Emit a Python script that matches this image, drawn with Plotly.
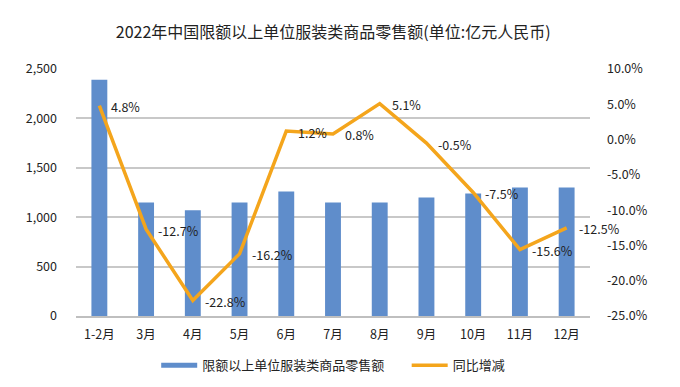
import plotly.graph_objects as go

months = ["1-2月", "3月", "4月", "5月", "6月", "7月", "8月", "9月", "10月", "11月", "12月"]
sales = [2390, 1150, 1070, 1150, 1260, 1150, 1150, 1200, 1240, 1300, 1300]
yoy = [4.8, -12.7, -22.8, -16.2, 1.2, 0.8, 5.1, -0.5, -7.5, -15.6, -12.5]
left_ticks = [0, 500, 1000, 1500, 2000, 2500]
right_ticks = [10, 5, 0, -5, -10, -15, -20, -25]

FONT = "Noto Sans CJK SC"
BLUE = "#5F8DCB"
ORANGE = "#F4A51C"

fig = go.Figure()
fig.add_trace(go.Bar(
    x=months, y=sales, name="限额以上单位服装类商品零售额",
    marker=dict(color=BLUE, line=dict(width=0)), width=0.34, showlegend=False,
))
fig.add_trace(go.Scatter(
    x=months, y=yoy, name="同比增减", yaxis="y2", mode="lines",
    line=dict(color=ORANGE, width=3.5), showlegend=False,
))
# legend-only entries (line-shaped swatches like the reference)
fig.add_trace(go.Scatter(
    x=[months[0]], y=[None], name="限额以上单位服装类商品零售额" + "\u00a0" * 6, mode="lines",
    line=dict(color=BLUE, width=5),
))
fig.add_trace(go.Scatter(
    x=[months[0]], y=[None], name="同比增减", mode="lines", yaxis="y2",
    line=dict(color=ORANGE, width=3.5),
))

for m, v in zip(months, yoy):
    fig.add_annotation(x=m, y=v, yref="y2", text=f"{v:.1f}%", showarrow=False,
                       xanchor="left", yanchor="middle", xshift=10, yshift=-1,
                       font=dict(size=12.5, color="#222", family=FONT))

fig.update_layout(
    width=680, height=387,
    margin=dict(l=76, r=90, t=69, b=71, autoexpand=False),
    paper_bgcolor="white", plot_bgcolor="white",
    font=dict(family=FONT, size=12.5, color="#222"),
    title=dict(text="2022年中国限额以上单位服装类商品零售额(单位:亿元人民币)",
               x=0.49, xanchor="center", y=0.915, yanchor="middle",
               font=dict(size=16, color="#222", family=FONT)),
    xaxis=dict(type="category", categoryorder="array", categoryarray=months,
               range=[-0.5, len(months) - 0.5],
               showgrid=False, ticks="", ticklabelstandoff=6,
               showline=True, linecolor="#bfbfbf", linewidth=1.5),
    yaxis=dict(range=[0, 2500], tickvals=left_ticks,
               ticktext=[f"{v:,}" for v in left_ticks],
               showgrid=True, gridcolor="#c8c8c8", gridwidth=1.5,
               zeroline=False, ticks="", ticklabelstandoff=18),
    yaxis2=dict(range=[-25, 10], overlaying="y", side="right",
                tickvals=right_ticks, ticktext=[f"{v:.1f}%" for v in right_ticks],
                showgrid=False, zeroline=False, ticks="", ticklabelstandoff=16),
    legend=dict(orientation="h", x=0.49, xanchor="center", xref="container",
                y=0.095, yanchor="top", yref="container",
                font=dict(size=13), itemwidth=36, traceorder="normal"),
    bargap=0.66,
)

fig.write_html("out.html", config={"displayModeBar": False},
               post_script="document.body.style.margin='0';")
